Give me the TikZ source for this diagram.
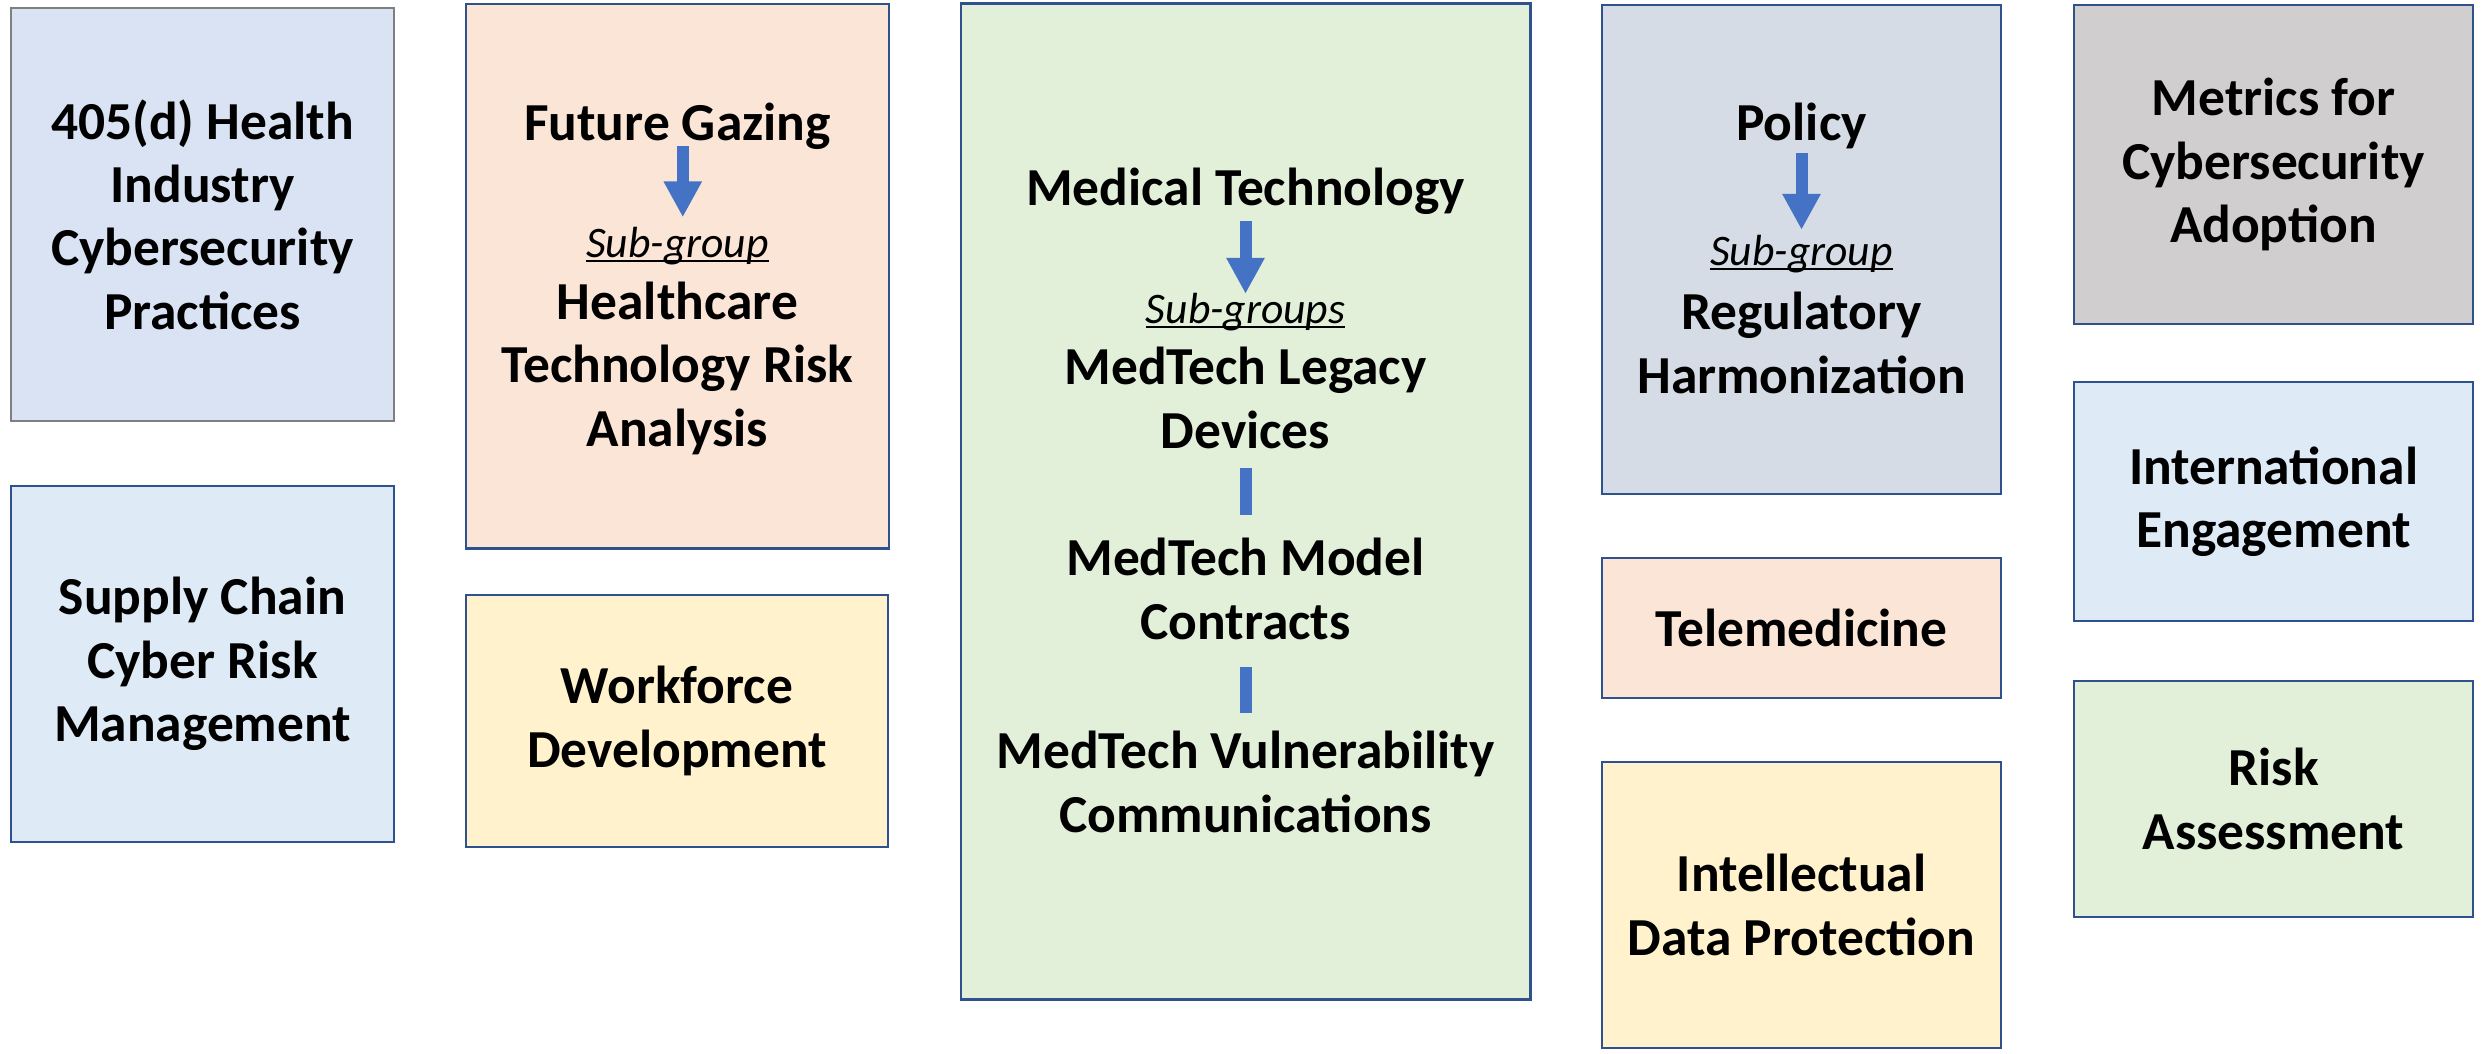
\documentclass[tikz,border=0pt]{standalone}
\usepackage{fontspec}
\setmainfont{Carlito}
\usetikzlibrary{arrows.meta}
\definecolor{edgeblue}{HTML}{2F528F}
\definecolor{edgegrey}{HTML}{7F7F7F}
\definecolor{arrowblue}{HTML}{4472C4}
\definecolor{paleblue}{HTML}{DAE3F3}
\definecolor{skyblue}{HTML}{DEEBF7}
\definecolor{peach}{HTML}{FBE5D6}
\definecolor{cream}{HTML}{FFF2CC}
\definecolor{mint}{HTML}{E2F0D9}
\definecolor{slate}{HTML}{D6DCE5}
\definecolor{stone}{HTML}{D0CECE}
\newcommand{\sgline}[1]{\setbox0\hbox{#1}\rlap{\rule[-1.5pt]{\wd0}{0.7pt}}\box0}
\tikzset{
	wg/.style={draw=edgeblue,line width=0.75pt,inner sep=0pt,align=center,font=\fontsize{15.2pt}{18pt}\selectfont\bfseries},
	lbl/.style={inner sep=0pt,align=center,anchor=base,font=\fontsize{15.2pt}{18pt}\selectfont\bfseries},
	sub/.style={inner sep=0pt,anchor=base,font=\fontsize{12.4pt}{14pt}\selectfont\itshape},
	down/.style={arrowblue,line width=3.4pt,-{Triangle[width=10.2pt,length=10.2pt]}},
	bar/.style={arrowblue,line width=3.4pt}
}
\begin{document}
\begin{tikzpicture}[x=0.01cm,y=-0.01cm]
	\useasboundingbox (0,0) rectangle (2483,1053);
	% first column
	\node[wg,draw=edgegrey,fill=paleblue,minimum width=3.83cm,minimum height=4.13cm] (hic) at (202.5,214.5) {405(d) Health\\Industry\\Cybersecurity\\Practices};
	\node[wg,fill=skyblue,minimum width=3.83cm,minimum height=3.56cm] (scrm) at (202.5,664) {Supply Chain\\Cyber Risk\\Management};
	% second column
	\node[wg,fill=peach,minimum width=4.23cm,minimum height=5.44cm] (fgbox) at (677.5,276) {};
	\node[lbl] (fg) at (677.5,140) {Future Gazing};
	\node[sub] (fgsub) at (677.5,257) {\sgline{Sub-group}};
	\node[lbl] (htra) at (677.5,446) {Healthcare\\Technology Risk\\Analysis};
	\draw[down,shorten <=-1pt,shorten >=2.5pt] ([xshift=1.5pt]fg.south) -- ([xshift=1.5pt]fgsub.north);
	\node[wg,fill=cream,minimum width=4.22cm,minimum height=2.52cm] (wfd) at (677,721) {Workforce\\Development};
	% medical technology
	\node[wg,fill=mint,minimum width=5.69cm,minimum height=9.95cm] (mtbox) at (1245.5,501.5) {};
	\node[lbl] (mt) at (1245.5,205) {Medical Technology};
	\node[sub] (mtsub) at (1245.5,323) {\sgline{Sub-groups}};
	\node[lbl] (legacy) at (1245.5,448) {MedTech Legacy\\Devices};
	\node[lbl] (model) at (1245.5,639) {MedTech Model\\Contracts};
	\node[lbl] (vuln) at (1245.5,832) {MedTech Vulnerability\\Communications};
	\draw[down,shorten <=1.7pt,shorten >=-0.5pt] (mt) -- (mtsub);
	\draw[bar,shorten <=5.4pt,shorten >=6.3pt] (legacy) -- (model);
	\draw[bar,shorten <=7.7pt,shorten >=5.1pt] (model) -- (vuln);
	% fourth column
	\node[wg,fill=slate,minimum width=3.99cm,minimum height=4.89cm] (polbox) at (1801.5,249.5) {};
	\node[lbl] (pol) at (1801.5,140) {Policy};
	\node[sub] (polsub) at (1801.5,265) {\sgline{Sub-group}};
	\node[lbl] (regh) at (1801.5,393) {Regulatory\\Harmonization};
	\draw[down,shorten <=1.1pt,shorten >=1.2pt] (pol) -- (polsub);
	\node[wg,fill=peach,minimum width=3.99cm,minimum height=1.40cm] (tele) at (1801.5,628) {Telemedicine};
	\node[wg,fill=cream,minimum width=3.99cm,minimum height=2.86cm] (idp) at (1801.5,905) {Intellectual\\Data Protection};
	% fifth column
	\node[wg,fill=stone,minimum width=3.99cm,minimum height=3.19cm] (mca) at (2273.5,164.5) {Metrics for\\Cybersecurity\\Adoption};
	\node[wg,fill=skyblue,minimum width=3.99cm,minimum height=2.39cm] (intl) at (2273.5,501.5) {International\\Engagement};
	\node[wg,fill=mint,minimum width=3.99cm,minimum height=2.36cm] (risk) at (2273.5,799) {Risk\\Assessment};
\end{tikzpicture}
\end{document}
